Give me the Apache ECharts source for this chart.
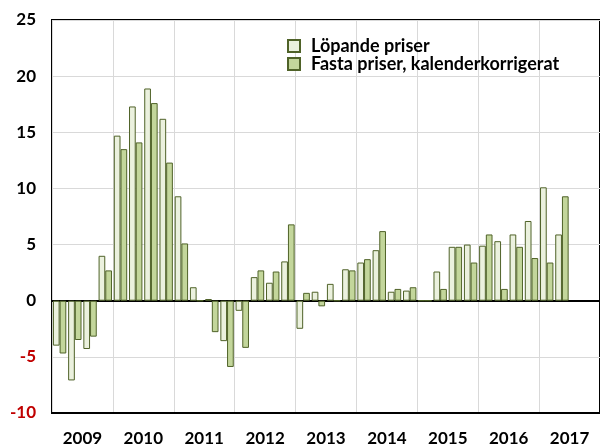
<!DOCTYPE html>
<html>
<head>
<meta charset="utf-8">
<script src="https://cdn.jsdelivr.net/npm/echarts@6/dist/echarts.min.js"></script>
<style>
  html, body { margin: 0; padding: 0; background: #fff; }
  #chart { width: 600px; height: 448px; }
</style>
</head>
<body>
<div id="chart"></div>
<script>
// år på x-axeln, kvartal per år
const years = ['2009', '2010', '2011', '2012', '2013', '2014', '2015', '2016', '2017']
const quarters = []
years.forEach(y => {
    for (let q = 1; q <= 4; q++) quarters.push(y + ' K' + q)
})

// Löpande priser
const lopande = [
    -4.0, -7.1, -4.3, 4.0,
    14.7, 17.3, 18.9, 16.2,
    9.3, 1.2, 0.15, -3.6,
    -0.9, 2.1, 1.6, 3.5,
    -2.5, 0.8, 1.5, 2.8,
    3.4, 4.5, 0.8, 0.9,
    0, 2.6, 4.8, 5.0,
    4.9, 5.3, 5.9, 7.1,
    10.1, 5.9, null, null
]
// Fasta priser, kalenderkorrigerat
const fasta = [
    -4.7, -3.5, -3.2, 2.7,
    13.5, 14.1, 17.6, 12.3,
    5.1, 0, -2.8, -5.9,
    -4.2, 2.7, 2.6, 6.8,
    0.7, -0.5, 0, 2.7,
    3.7, 6.2, 1.05, 1.2,
    0, 1.05, 4.8, 3.4,
    5.9, 1.05, 4.8, 3.8,
    3.4, 9.3, null, null
]

const yTicks = { min: -10, max: 25, step: 5 }

const fontFam = 'Lato, "Open Sans", sans-serif'
const borderCol = '#4f6228'

const chart = echarts.init(document.getElementById('chart'))
const option = {
    animation: false,
    backgroundColor: '#fff',
    grid: {
        left: 52, right: -10, top: 20, bottom: 35,
        show: true, borderColor: '#000', borderWidth: 2
    },
    legend: {
        orient: 'vertical',
        left: 282, top: 32,
        icon: 'rect',
        itemWidth: 12, itemHeight: 12, itemGap: 0,
        textStyle: { fontFamily: fontFam, fontWeight: 'bold', fontSize: 18, color: '#000', padding: [0, 0, 0, 6] },
        data: ['Löpande priser', 'Fasta priser, kalenderkorrigerat']
    },
    xAxis: [
        {
            type: 'category',
            data: quarters,
            axisLine: { onZero: true, lineStyle: { color: '#000', width: 2 } },
            axisTick: { show: false },
            axisLabel: { show: false },
            splitLine: { show: false }
        },
        {
            type: 'category',
            data: years,
            position: 'bottom',
            axisLine: { onZero: false, lineStyle: { color: '#000', width: 2 } },
            axisTick: { show: false },
            axisLabel: { fontFamily: fontFam, fontWeight: 'bold', fontSize: 17, color: '#000', margin: 17 },
            splitLine: { show: true, lineStyle: { color: '#d9d9d9', width: 1 } }
        }
    ],
    yAxis: {
        type: 'value',
        min: yTicks.min, max: yTicks.max, interval: yTicks.step,
        axisLine: { show: false },
        axisTick: { show: false },
        axisLabel: {
            fontFamily: fontFam, fontWeight: 'bold', fontSize: 17, margin: 16,
            color: (v) => Number(v) < 0 ? '#c00000' : '#000'
        },
        splitLine: { lineStyle: { color: '#d9d9d9', width: 1 } }
    },
    series: [
        {
            name: 'Löpande priser',
            type: 'bar',
            xAxisIndex: 0,
            data: lopande,
            barGap: '0%',
            barCategoryGap: '12%',
            itemStyle: { color: '#ebf1de', borderColor: borderCol, borderWidth: 1 }
        },
        {
            name: 'Fasta priser, kalenderkorrigerat',
            type: 'bar',
            xAxisIndex: 0,
            data: fasta,
            barGap: '0%',
            barCategoryGap: '12%',
            itemStyle: { color: '#c3d69b', borderColor: borderCol, borderWidth: 1 }
        }
    ]
}
chart.setOption(option)
</script>
</body>
</html>
